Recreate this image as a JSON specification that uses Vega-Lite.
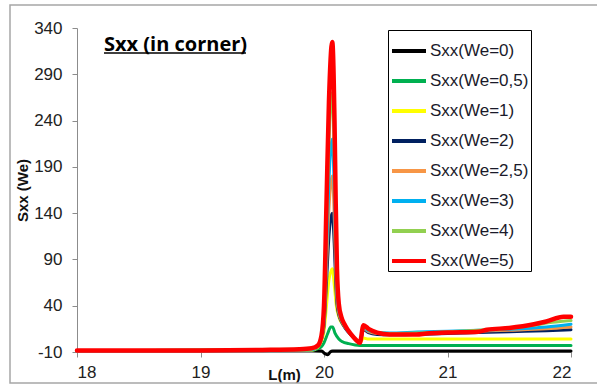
{
  "$schema": "https://vega.github.io/schema/vega-lite/v6.json",
  "width": 494,
  "height": 324,
  "autosize": {"type": "none"},
  "padding": {"left": 77, "top": 28, "right": 26, "bottom": 35},
  "background": "white",
  "config": {
    "view": {"stroke": null},
    "font": "Liberation Sans"
  },
  "layer": [
    {
      "data": {
        "values": [
          {"s":"Sxx(We=0)","L":18,"v":-8.5},{"s":"Sxx(We=0)","L":19.9,"v":-8.5},{"s":"Sxx(We=0)","L":19.98,"v":-9},{"s":"Sxx(We=0)","L":20.01,"v":-12},{"s":"Sxx(We=0)","L":20.03,"v":-13},{"s":"Sxx(We=0)","L":20.05,"v":-10},{"s":"Sxx(We=0)","L":20.07,"v":-9},{"s":"Sxx(We=0)","L":22,"v":-9},

          {"s":"Sxx(We=0,5)","L":18,"v":-8.5},{"s":"Sxx(We=0,5)","L":19.9,"v":-8.3},{"s":"Sxx(We=0,5)","L":19.95,"v":-6.5},{"s":"Sxx(We=0,5)","L":19.98,"v":-4},{"s":"Sxx(We=0,5)","L":20.0,"v":0},{"s":"Sxx(We=0,5)","L":20.03,"v":10},{"s":"Sxx(We=0,5)","L":20.055,"v":17},{"s":"Sxx(We=0,5)","L":20.07,"v":17},{"s":"Sxx(We=0,5)","L":20.09,"v":10},{"s":"Sxx(We=0,5)","L":20.12,"v":4},{"s":"Sxx(We=0,5)","L":20.15,"v":1},{"s":"Sxx(We=0,5)","L":20.2,"v":-1},{"s":"Sxx(We=0,5)","L":20.29,"v":-3},{"s":"Sxx(We=0,5)","L":22,"v":-3},

          {"s":"Sxx(We=1)","L":18,"v":-8.5},{"s":"Sxx(We=1)","L":19.9,"v":-8},{"s":"Sxx(We=1)","L":19.95,"v":-5},{"s":"Sxx(We=1)","L":19.98,"v":2},{"s":"Sxx(We=1)","L":20.0,"v":12},{"s":"Sxx(We=1)","L":20.02,"v":40},{"s":"Sxx(We=1)","L":20.04,"v":68},{"s":"Sxx(We=1)","L":20.067,"v":80},{"s":"Sxx(We=1)","L":20.085,"v":60},{"s":"Sxx(We=1)","L":20.1,"v":40},{"s":"Sxx(We=1)","L":20.12,"v":28},{"s":"Sxx(We=1)","L":20.15,"v":20},{"s":"Sxx(We=1)","L":20.2,"v":12},{"s":"Sxx(We=1)","L":20.25,"v":4},{"s":"Sxx(We=1)","L":20.29,"v":0},{"s":"Sxx(We=1)","L":20.32,"v":5},{"s":"Sxx(We=1)","L":20.36,"v":4},{"s":"Sxx(We=1)","L":22,"v":4},

          {"s":"Sxx(We=2)","L":18,"v":-8.5},{"s":"Sxx(We=2)","L":19.9,"v":-7.5},{"s":"Sxx(We=2)","L":19.95,"v":-4},{"s":"Sxx(We=2)","L":19.98,"v":4},{"s":"Sxx(We=2)","L":20.0,"v":18},{"s":"Sxx(We=2)","L":20.02,"v":65},{"s":"Sxx(We=2)","L":20.04,"v":115},{"s":"Sxx(We=2)","L":20.067,"v":140},{"s":"Sxx(We=2)","L":20.085,"v":100},{"s":"Sxx(We=2)","L":20.095,"v":65},{"s":"Sxx(We=2)","L":20.105,"v":42},{"s":"Sxx(We=2)","L":20.12,"v":30},{"s":"Sxx(We=2)","L":20.14,"v":23},{"s":"Sxx(We=2)","L":20.17,"v":16},{"s":"Sxx(We=2)","L":20.22,"v":8},{"s":"Sxx(We=2)","L":20.26,"v":3},{"s":"Sxx(We=2)","L":20.29,"v":0},{"s":"Sxx(We=2)","L":20.32,"v":14},{"s":"Sxx(We=2)","L":20.36,"v":11},{"s":"Sxx(We=2)","L":20.43,"v":9},{"s":"Sxx(We=2)","L":20.53,"v":8.5},{"s":"Sxx(We=2)","L":20.75,"v":9},{"s":"Sxx(We=2)","L":21.0,"v":10},{"s":"Sxx(We=2)","L":21.25,"v":11},{"s":"Sxx(We=2)","L":21.5,"v":12},{"s":"Sxx(We=2)","L":21.8,"v":13},{"s":"Sxx(We=2)","L":22,"v":14},

          {"s":"Sxx(We=2,5)","L":18,"v":-8.5},{"s":"Sxx(We=2,5)","L":19.9,"v":-7.5},{"s":"Sxx(We=2,5)","L":19.95,"v":-4},{"s":"Sxx(We=2,5)","L":19.98,"v":4},{"s":"Sxx(We=2,5)","L":20.0,"v":21},{"s":"Sxx(We=2,5)","L":20.02,"v":80},{"s":"Sxx(We=2,5)","L":20.04,"v":145},{"s":"Sxx(We=2,5)","L":20.067,"v":180},{"s":"Sxx(We=2,5)","L":20.085,"v":128},{"s":"Sxx(We=2,5)","L":20.095,"v":80},{"s":"Sxx(We=2,5)","L":20.105,"v":48},{"s":"Sxx(We=2,5)","L":20.12,"v":32},{"s":"Sxx(We=2,5)","L":20.14,"v":24},{"s":"Sxx(We=2,5)","L":20.17,"v":17},{"s":"Sxx(We=2,5)","L":20.22,"v":9},{"s":"Sxx(We=2,5)","L":20.26,"v":3},{"s":"Sxx(We=2,5)","L":20.29,"v":0},{"s":"Sxx(We=2,5)","L":20.32,"v":15},{"s":"Sxx(We=2,5)","L":20.36,"v":12},{"s":"Sxx(We=2,5)","L":20.43,"v":10},{"s":"Sxx(We=2,5)","L":20.53,"v":9.5},{"s":"Sxx(We=2,5)","L":20.75,"v":10.5},{"s":"Sxx(We=2,5)","L":21.0,"v":11.5},{"s":"Sxx(We=2,5)","L":21.25,"v":12.5},{"s":"Sxx(We=2,5)","L":21.5,"v":13.5},{"s":"Sxx(We=2,5)","L":21.8,"v":15},{"s":"Sxx(We=2,5)","L":22,"v":17},

          {"s":"Sxx(We=3)","L":18,"v":-8.5},{"s":"Sxx(We=3)","L":19.9,"v":-7.5},{"s":"Sxx(We=3)","L":19.95,"v":-4},{"s":"Sxx(We=3)","L":19.98,"v":5},{"s":"Sxx(We=3)","L":20.0,"v":25},{"s":"Sxx(We=3)","L":20.02,"v":95},{"s":"Sxx(We=3)","L":20.04,"v":175},{"s":"Sxx(We=3)","L":20.067,"v":220},{"s":"Sxx(We=3)","L":20.085,"v":155},{"s":"Sxx(We=3)","L":20.095,"v":95},{"s":"Sxx(We=3)","L":20.105,"v":55},{"s":"Sxx(We=3)","L":20.12,"v":35},{"s":"Sxx(We=3)","L":20.14,"v":25},{"s":"Sxx(We=3)","L":20.17,"v":17},{"s":"Sxx(We=3)","L":20.22,"v":9},{"s":"Sxx(We=3)","L":20.26,"v":3},{"s":"Sxx(We=3)","L":20.29,"v":0},{"s":"Sxx(We=3)","L":20.32,"v":16},{"s":"Sxx(We=3)","L":20.36,"v":13},{"s":"Sxx(We=3)","L":20.43,"v":11},{"s":"Sxx(We=3)","L":20.53,"v":10.5},{"s":"Sxx(We=3)","L":20.75,"v":11.5},{"s":"Sxx(We=3)","L":21.0,"v":12.5},{"s":"Sxx(We=3)","L":21.25,"v":13.5},{"s":"Sxx(We=3)","L":21.5,"v":14.5},{"s":"Sxx(We=3)","L":21.8,"v":17},{"s":"Sxx(We=3)","L":22,"v":20},

          {"s":"Sxx(We=4)","L":18,"v":-8.5},{"s":"Sxx(We=4)","L":19.9,"v":-7},{"s":"Sxx(We=4)","L":19.95,"v":-4},{"s":"Sxx(We=4)","L":19.98,"v":5},{"s":"Sxx(We=4)","L":20.0,"v":30},{"s":"Sxx(We=4)","L":20.02,"v":120},{"s":"Sxx(We=4)","L":20.04,"v":215},{"s":"Sxx(We=4)","L":20.067,"v":270},{"s":"Sxx(We=4)","L":20.085,"v":190},{"s":"Sxx(We=4)","L":20.095,"v":115},{"s":"Sxx(We=4)","L":20.105,"v":65},{"s":"Sxx(We=4)","L":20.12,"v":38},{"s":"Sxx(We=4)","L":20.14,"v":26},{"s":"Sxx(We=4)","L":20.17,"v":18},{"s":"Sxx(We=4)","L":20.22,"v":9},{"s":"Sxx(We=4)","L":20.26,"v":3},{"s":"Sxx(We=4)","L":20.29,"v":0},{"s":"Sxx(We=4)","L":20.32,"v":17},{"s":"Sxx(We=4)","L":20.36,"v":14},{"s":"Sxx(We=4)","L":20.43,"v":11},{"s":"Sxx(We=4)","L":20.53,"v":10},{"s":"Sxx(We=4)","L":20.75,"v":10.5},{"s":"Sxx(We=4)","L":21.0,"v":12},{"s":"Sxx(We=4)","L":21.25,"v":13.5},{"s":"Sxx(We=4)","L":21.5,"v":15.5},{"s":"Sxx(We=4)","L":21.7,"v":19},{"s":"Sxx(We=4)","L":21.85,"v":22},{"s":"Sxx(We=4)","L":22,"v":24},

          {"s":"Sxx(We=5)","L":18,"v":-8.3},{"s":"Sxx(We=5)","L":19,"v":-8.3},{"s":"Sxx(We=5)","L":19.5,"v":-7.8},{"s":"Sxx(We=5)","L":19.8,"v":-7},{"s":"Sxx(We=5)","L":19.9,"v":-6},{"s":"Sxx(We=5)","L":19.95,"v":-3},{"s":"Sxx(We=5)","L":19.98,"v":8},{"s":"Sxx(We=5)","L":20.0,"v":40},{"s":"Sxx(We=5)","L":20.02,"v":150},{"s":"Sxx(We=5)","L":20.04,"v":260},{"s":"Sxx(We=5)","L":20.067,"v":325},{"s":"Sxx(We=5)","L":20.085,"v":240},{"s":"Sxx(We=5)","L":20.095,"v":150},{"s":"Sxx(We=5)","L":20.105,"v":80},{"s":"Sxx(We=5)","L":20.12,"v":42},{"s":"Sxx(We=5)","L":20.14,"v":28},{"s":"Sxx(We=5)","L":20.17,"v":19},{"s":"Sxx(We=5)","L":20.22,"v":9},{"s":"Sxx(We=5)","L":20.26,"v":3},{"s":"Sxx(We=5)","L":20.29,"v":0},{"s":"Sxx(We=5)","L":20.32,"v":19},{"s":"Sxx(We=5)","L":20.36,"v":15},{"s":"Sxx(We=5)","L":20.43,"v":11},{"s":"Sxx(We=5)","L":20.53,"v":9},{"s":"Sxx(We=5)","L":20.75,"v":9},{"s":"Sxx(We=5)","L":20.83,"v":10},{"s":"Sxx(We=5)","L":21.0,"v":11},{"s":"Sxx(We=5)","L":21.25,"v":12},{"s":"Sxx(We=5)","L":21.32,"v":14},{"s":"Sxx(We=5)","L":21.5,"v":16},{"s":"Sxx(We=5)","L":21.7,"v":20},{"s":"Sxx(We=5)","L":21.8,"v":23},{"s":"Sxx(We=5)","L":21.94,"v":28},{"s":"Sxx(We=5)","L":22,"v":28}
        ]
      },
      "mark": {"type": "line", "interpolate": "monotone", "strokeJoin": "round", "strokeCap": "round"},
      "encoding": {
        "x": {
          "field": "L", "type": "quantitative",
          "scale": {"domain": [18, 22], "nice": false, "zero": false},
          "axis": {
            "title": "L(m)", "values": [18, 19, 20, 21, 22], "format": "d", "grid": false,
            "domainColor": "#8c8c8c", "tickColor": "#8c8c8c", "tickSize": 5,
            "labelFontSize": 17, "labelColor": "#222222", "labelPadding": 7, "labelFont": "Liberation Sans",
            "titleFontSize": 15, "titleFontWeight": "bold", "titleColor": "#111111", "titleFont": "Liberation Sans",
            "titleX": 207, "titleY": 22, "titleAlign": "center", "titleBaseline": "middle"
          }
        },
        "y": {
          "field": "v", "type": "quantitative",
          "scale": {"domain": [-10, 340], "nice": false, "zero": false},
          "axis": {
            "title": "Sxx (We)", "values": [-10, 40, 90, 140, 190, 240, 290, 340], "grid": false,
            "labelExpr": "toString(datum.value)",
            "domainColor": "#8c8c8c", "tickColor": "#8c8c8c", "tickSize": 5,
            "labelFontSize": 17, "labelColor": "#222222", "labelPadding": 10, "labelFont": "Liberation Sans",
            "titleFontSize": 15, "titleFontWeight": "bold", "titleColor": "#111111", "titleFont": "Liberation Sans",
            "titlePadding": 3
          }
        },
        "color": {
          "field": "s", "type": "nominal",
          "scale": {
            "domain": ["Sxx(We=0)", "Sxx(We=0,5)", "Sxx(We=1)", "Sxx(We=2)", "Sxx(We=2,5)", "Sxx(We=3)", "Sxx(We=4)", "Sxx(We=5)"],
            "range": ["#000000", "#00B050", "#FFFF00", "#002060", "#F79646", "#00B0F0", "#92D050", "#FF0000"]
          },
          "legend": {
            "title": null, "orient": "none", "legendX": 311, "legendY": 2,
            "strokeColor": "#000000", "fillColor": "white", "padding": 2,
            "symbolType": "stroke", "symbolSize": 1156, "symbolStrokeWidth": 4,
            "labelFontSize": 17, "labelFont": "Liberation Sans", "labelColor": "#1a1a2a", "labelOffset": 2,
            "rowPadding": 3, "labelLimit": 200
          }
        },
        "strokeWidth": {
          "condition": {"test": "datum.s === 'Sxx(We=5)'", "value": 4.5},
          "value": 3
        }
      }
    },
    {
      "data": {"values": [{}]},
      "mark": {"type": "rect", "filled": false, "stroke": "#a6a6a6", "strokeWidth": 1.5},
      "encoding": {
        "x": {"datum": 17.4575, "type": "quantitative"},
        "x2": {"datum": 22.35},
        "y": {"datum": 364.85, "type": "quantitative"},
        "y2": {"datum": -43.49}
      }
    },
    {
      "data": {"values": [{}]},
      "mark": {"type": "text", "align": "left", "baseline": "middle", "font": "Open Sans", "fontWeight": "bold", "fontSize": 20, "color": "#000000"},
      "encoding": {
        "x": {"datum": 18.2186, "type": "quantitative"},
        "y": {"datum": 321.64, "type": "quantitative"},
        "text": {"value": "Sxx (in corner)"}
      }
    },
    {
      "data": {"values": [{}]},
      "mark": {"type": "rule", "color": "#000000", "strokeWidth": 1.5},
      "encoding": {
        "x": {"datum": 18.2186, "type": "quantitative"},
        "x2": {"datum": 19.368},
        "y": {"datum": 313.0, "type": "quantitative"}
      }
    }
  ]
}
